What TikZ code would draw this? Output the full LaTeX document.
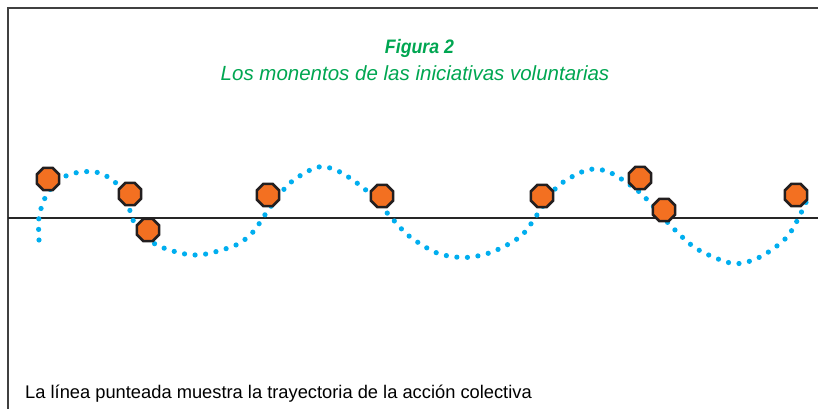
\documentclass[tikz,border=0pt]{standalone}
\usepackage{fontspec}
\setmainfont{Liberation Sans}
\newfontfamily\condfont{Liberation Sans}[FakeStretch=0.91]
\usepackage{tikz}
\usetikzlibrary{shapes.geometric}

\definecolor{figgreen}{RGB}{0,166,81}
\definecolor{dotblue}{RGB}{0,174,239}
\definecolor{momorange}{RGB}{243,112,33}
\definecolor{momedge}{RGB}{35,31,32}

\begin{document}
\begin{tikzpicture}[x=1pt,y=-1pt,
		momento/.style={shape=regular polygon,regular polygon sides=8,draw=momedge,fill=momorange,
			line width=2.6pt,minimum size=24pt,inner sep=0pt},
		trayecto/.style={dotblue,line width=5.2pt,line cap=round,dash pattern=on 0pt off 10.6pt},
		titulo/.style={figgreen,inner sep=0pt,anchor=base}]
		\useasboundingbox (0,0) rectangle (818,409);
		% marco y eje
		\draw [black!75,line width=2pt] (7.5,409) -- (7.5,8.5) -- (818,8.5);
		\coordinate (E0) at (7.5,218);
		\coordinate (E1) at (818,218);
		\draw [black!85,line width=1.3pt] (E0) -- (E1);
		% titulos
		\node [titulo] (T1) at (419.5,54) {\fontsize{19.5}{22}\selectfont\condfont\bfseries\itshape Figura 2};
		\node [titulo] (T2) at (415,81) {\fontsize{20.5}{24}\selectfont\itshape Los monentos de las iniciativas voluntarias};
		% trayectoria
		\draw [trayecto] plot [smooth] coordinates {(39,240) (39,217) (46,196) (60,179) (80,172) (100,173) (117,184)
			(127,200) (134,222) (155,244) (185,254) (206,254) (236,245) (253,232) (269,209) (290,183) (318,167)
			(340,172) (367,191) (389,215) (409,236) (437,253) (465,257.5) (492,252) (521,236) (539,212) (558,186)
			(587,170) (609,172) (637,190) (652,205) (672,227) (697,249) (733,263.5) (760,257) (787,237) (803,209)
			(808,197)};
		% momentos
		\node [momento] (M1) at (48,179) {};
		\node [momento] (M2) at (130,194) {};
		\node [momento] (M3) at (148,230) {};
		\node [momento] (M4) at (268,195) {};
		\node [momento] (M5) at (382,196) {};
		\node [momento] (M6) at (542,196) {};
		\node [momento] (M7) at (640,178) {};
		\node [momento] (M8) at (664,210) {};
		\node [momento] (M9) at (796,195) {};
		% nota
		\node [inner sep=0pt,anchor=base west] (N) at (25,398) {\fontsize{18.3}{22}\selectfont La línea punteada muestra la trayectoria de la acción colectiva};
	\end{tikzpicture}
\end{document}
